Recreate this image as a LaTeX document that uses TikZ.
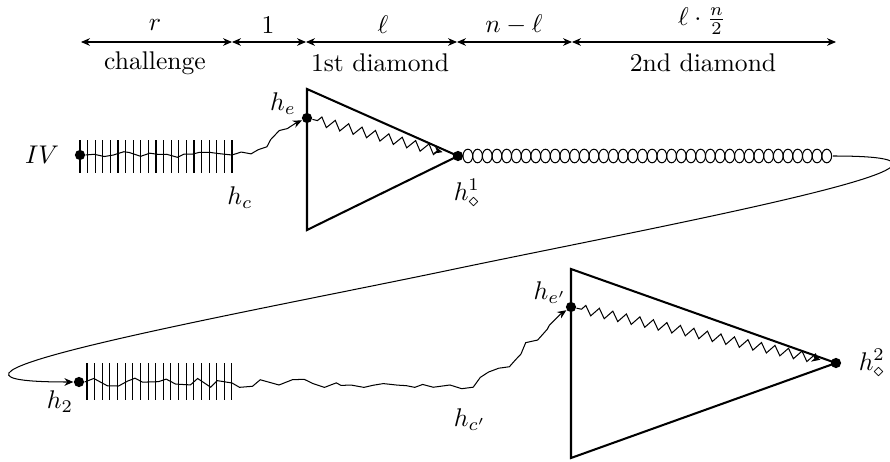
\documentclass[tikz,border=0pt]{standalone}
\usetikzlibrary{decorations.pathmorphing,arrows.meta}
\begin{document}
\begin{tikzpicture}[x=0.391pt,y=-0.391pt,
  dot/.style={circle,fill=black,inner sep=0pt,minimum size=4pt},
  dim/.style={{Stealth[length=3.5pt,width=3pt]}-{Stealth[length=3.5pt,width=3pt]}},
  lbl/.style={inner sep=0pt},
  tri/.style={thick,line join=miter},
  zz/.style={decorate,shorten >=4pt,decoration={zigzag,segment length=5.4pt,amplitude=1.8pt,pre length=2pt,post length=4pt}},
  rnd/.style={decorate,decoration={random steps,segment length=3.5pt,amplitude=1.3pt,post length=3pt}},
  rndb/.style={decorate,decoration={random steps,segment length=4pt,amplitude=1.7pt,post length=3pt}},
  arr/.style={-{Stealth[length=3.5pt,width=3pt]}}]
\useasboundingbox (0,0) rectangle (890,462);
\pgfmathsetseed{7}
% dimension line
\coordinate (d0) at (81,42);
\coordinate (d1) at (232,42);
\coordinate (d2) at (306,42);
\coordinate (d3) at (457,42);
\coordinate (d4) at (572,42);
\coordinate (d5) at (836,42);
\draw[dim] (d0) -- (d1);
\draw[dim] (d1) -- (d2);
\draw[dim] (d2) -- (d3);
\draw[dim] (d3) -- (d4);
\draw[dim] (d4) -- (d5);
\node[lbl] (lr) at (155,25) {$r$};
\node[lbl] (l1) at (268,25) {$1$};
\node[lbl] (lell) at (383,25) {$\ell$};
\node[lbl] (lnl) at (514,25) {$n-\ell$};
\node[lbl] (lln) at (702,21) {$\ell\cdot\frac{n}{2}$};
\node[lbl] (lch) at (155,63) {challenge};
\node[lbl] (l1d) at (380,63) {1st diamond};
\node[lbl] (l2d) at (703,63) {2nd diamond};
% first row
\foreach \i in {0,...,20} {\draw (80+7.6*\i,140) -- (80+7.6*\i,173);}
\node[dot] (iv) at (80,155) {};
\node[lbl] (ivl) at (42,155) {$IV$};
\coordinate (t1a) at (307,89);
\coordinate (t1b) at (307,230);
\node[dot] (h1) at (458,156) {};
\draw[tri] (t1a) -- (t1b) -- (h1.center) -- cycle;
\node[dot] (he) at (307,118) {};
\node[lbl] (hel) at (283,104) {$h_e$};
\node[lbl] (hcl) at (240,198) {$h_c$};
\node[lbl] (h1l) at (467,193) {$h^1_\diamond$};
\coordinate (hcend) at (232,155);
\draw[rnd,arr] (iv) -- (hcend) to[out=0,in=205] (he);
\draw[zz,arr] (he) -- (h1);
% chain of loops
\foreach \i in {0,...,37} {\draw (467.85+9.7*\i,156) ellipse [x radius=4.85, y radius=6.8];}
\coordinate (coilend) at (833,156);
% second row
\node[dot] (h2) at (79,382) {};
\node[lbl] (h2l) at (60,402) {$h_2$};
\coordinate (mid) at (450,270);
\draw[arr] (coilend) .. controls (1043,156) and (650,228) .. (mid)
  .. controls (250,312) and (-140,382) .. (h2.west);
\foreach \i in {0,...,19} {\draw (87+7.63*\i,363) -- (87+7.63*\i,400);}
\coordinate (t2a) at (571,269);
\coordinate (t2b) at (571,458);
\node[dot] (h2d) at (836,363) {};
\draw[tri] (t2a) -- (t2b) -- (h2d.center) -- cycle;
\node[dot] (hep) at (571,307) {};
\node[lbl] (hepl) at (550,293) {$h_{e'}$};
\node[lbl] (hcpl) at (470,420) {$h_{c'}$};
\node[lbl] (h2dl) at (872,363) {$h^2_\diamond$};
\coordinate (m1) at (232,383);
\coordinate (m2) at (450,385);
\draw[rndb,arr] (h2) -- (m1) -- (m2) to[out=0,in=215] (hep);
\draw[zz,arr] (hep) -- (h2d);
\end{tikzpicture}
\end{document}
